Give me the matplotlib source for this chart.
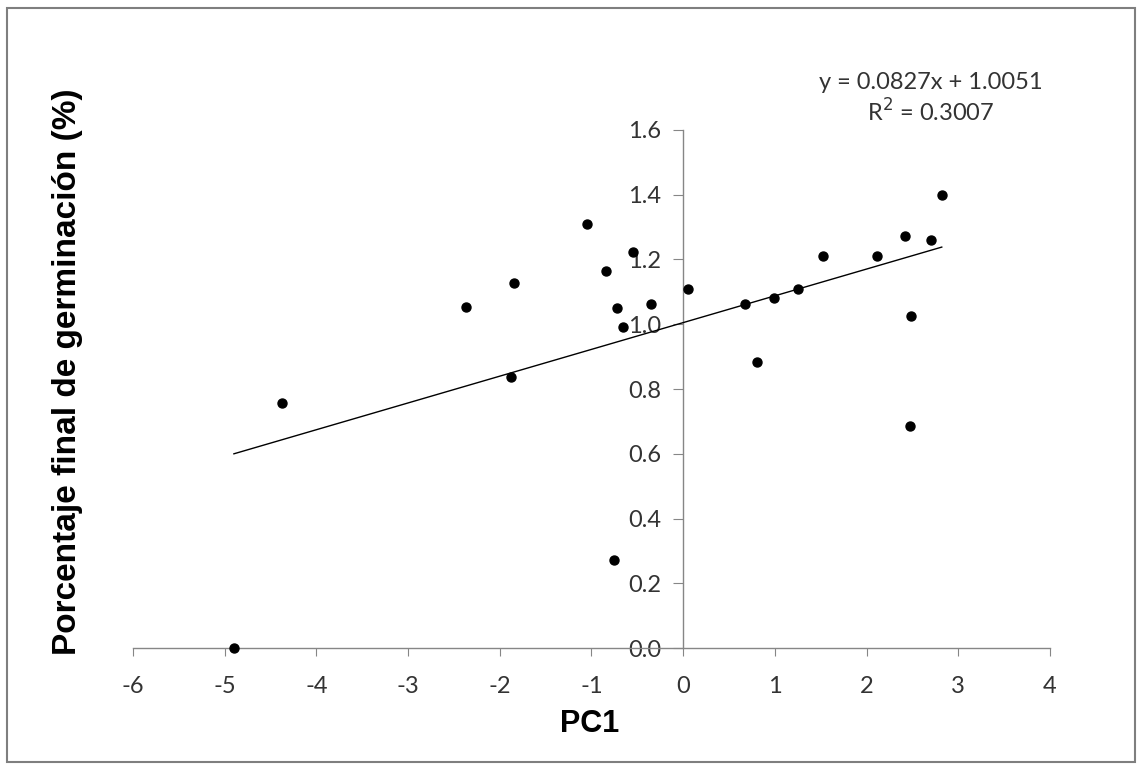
import matplotlib.pyplot as plt
from matplotlib.patches import Rectangle

# data
pc1 = [-4.90, -4.38, -2.37, -1.85, -1.88, -1.05, -0.84, -0.55, -0.72, -0.66,
       -0.35, -0.76, 0.05, 0.67, 0.81, 0.99, 1.25, 1.53, 2.11, 2.42,
       2.70, 2.82, 2.48, 2.47]
germ = [0.00, 0.758, 1.054, 1.126, 0.838, 1.311, 1.165, 1.222, 1.051, 0.992,
        1.062, 0.273, 1.110, 1.062, 0.884, 1.082, 1.109, 1.212, 1.212, 1.273,
        1.260, 1.399, 1.026, 0.687]

slope = 0.0827
intercept = 1.0051
r2 = 0.3007

x_ticks = [-6, -5, -4, -3, -2, -1, 0, 1, 2, 3, 4]
y_ticks = [0.0, 0.2, 0.4, 0.6, 0.8, 1.0, 1.2, 1.4, 1.6]

fig = plt.figure(figsize=(11.42, 7.71), dpi=100)
ax = fig.add_axes([0.1165, 0.1595, 0.8029, 0.6719])

# outer chart frame
fig.patches.append(Rectangle((0.006, 0.012), 0.988, 0.978, transform=fig.transFigure,
                             fill=False, edgecolor="#7f7f7f", linewidth=1.5))

ax.scatter(pc1, germ, s=42, color="black", zorder=4, clip_on=False)

# linear trendline over the data range
x0, x1 = min(pc1), max(pc1)
ax.plot([x0, x1], [slope * x0 + intercept, slope * x1 + intercept],
        color="black", linewidth=1.0, zorder=3)

ax.set_xlim(-6, 4)
ax.set_ylim(0, 1.6)
ax.set_xticks(x_ticks)
ax.set_yticks(y_ticks)
ax.set_xticklabels([str(t) for t in x_ticks])
ax.set_yticklabels([f"{t:.1f}" for t in y_ticks])

ax.spines["left"].set_position(("data", 0))
ax.spines["bottom"].set_position(("data", 0))
ax.spines["top"].set_visible(False)
ax.spines["right"].set_visible(False)
for s in ("left", "bottom"):
    ax.spines[s].set_color("#868686")
    ax.spines[s].set_linewidth(1.0)

ax.tick_params(axis="x", direction="out", length=6, color="#868686", pad=14,
               labelsize=17, labelcolor="#333333")
ax.tick_params(axis="y", direction="out", length=7, color="#868686", pad=9,
               labelsize=17, labelcolor="#333333")
for lab in ax.get_xticklabels() + ax.get_yticklabels():
    lab.set_family("Lato")

fig.text(0.5166, 0.061, "PC1", fontsize=22, fontweight="bold",
         family="Liberation Sans", ha="center", va="center")
fig.text(0.0587, 0.518, "Porcentaje final de germinación (%)", fontsize=24,
         fontweight="bold", family="Liberation Sans", rotation=90,
         ha="center", va="center")

fig.text(0.8148, 0.8936, f"y = {slope}x + {intercept}", fontsize=17,
         family="Lato", color="#333333", ha="center", va="center")
fig.text(0.8152, 0.8547, f"R$^2$ = {r2}", fontsize=17,
         family="Lato", color="#333333", ha="center", va="center")

fig.savefig("out.png", dpi=100, facecolor="white")
